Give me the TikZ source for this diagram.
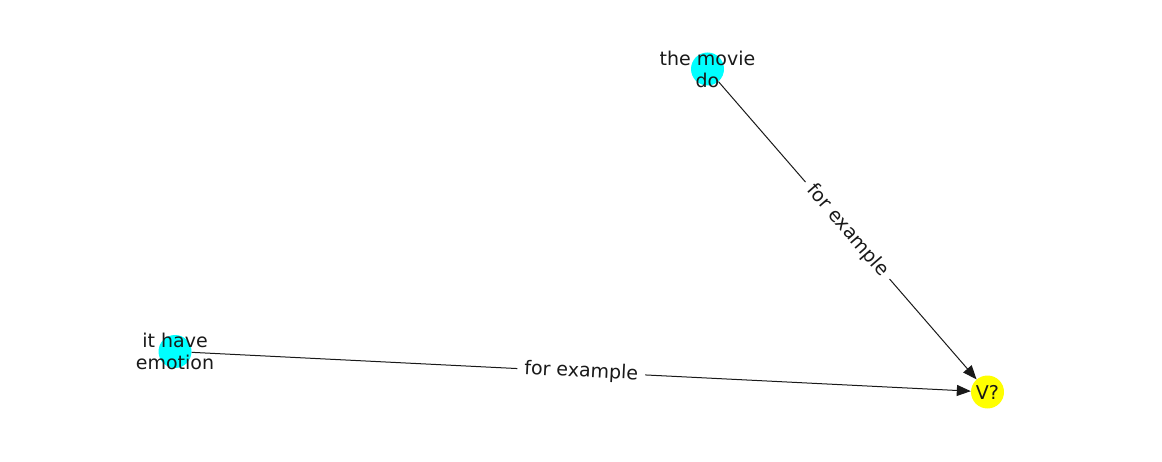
\documentclass[tikz,border=0pt]{standalone}
\usepackage{fontspec}
\setmainfont{DejaVu Sans}
\usetikzlibrary{arrows.meta}
\definecolor{nodecyan}{RGB}{0,255,255}
\definecolor{nodeyellow}{RGB}{255,255,0}
\begin{document}
\begin{tikzpicture}[x=1pt,y=-1pt,
  dot/.style={circle,inner sep=0pt,minimum size=33pt},
  lbl/.style={font=\fontsize{19}{22}\selectfont,align=center,text=black!90},
  edge/.style={draw=black!90,line width=1pt,-{Triangle[length=14pt,width=11pt]},shorten >=0pt},
  elabel/.style={font=\fontsize{19}{22}\selectfont,fill=white,inner sep=7pt,sloped,midway,text=black!90}]
\useasboundingbox (0,0) rectangle (1162,462);
\node[dot,fill=nodecyan] (movie) at (707.5,69) {};
\node[dot,fill=nodecyan] (emotion) at (175,351.5) {};
\node[dot,fill=nodeyellow] (v) at (987.5,392) {};
\draw[edge] (movie) -- node[elabel] {for example} (v);
\draw[edge] (emotion) -- node[elabel] {for example} (v);
\node[lbl] (movietxt) at (707.5,69) {the movie\\do};
\node[lbl] (emotiontxt) at (175,351.5) {it have\\emotion};
\node[lbl] (vtxt) at (987.5,392) {V?};
\end{tikzpicture}
\end{document}
